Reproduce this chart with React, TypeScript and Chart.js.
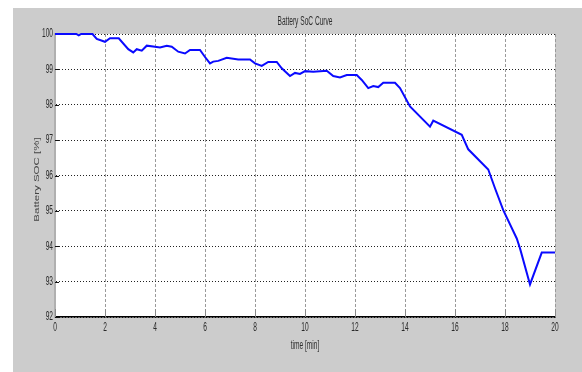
import { useEffect, useRef } from "react";
import { Chart, registerables } from "chart.js";

Chart.register(...registerables);

// Battery state of charge over a 20 minute run
const timeMin = [
  0, 0.85, 0.95, 1.05, 1.5, 1.67, 2.0, 2.2, 2.55, 2.93, 3.13, 3.27, 3.47, 3.67,
  4.0, 4.2, 4.47, 4.67, 4.93, 5.2, 5.4, 5.8, 6.0, 6.2, 6.33, 6.53, 6.87, 7.33,
  7.8, 8.0, 8.27, 8.53, 8.87, 9.07, 9.4, 9.6, 9.8, 10.0, 10.33, 10.87, 11.13,
  11.4, 11.67, 12.07, 12.27, 12.53, 12.73, 12.93, 13.13, 13.6, 13.8, 14.2, 15.0,
  15.13, 16.27, 16.53, 17.33, 17.6, 17.93, 18.47, 18.6, 19.0, 19.47, 20,
];
const socPct = [
  100, 100, 99.96, 100, 100, 99.86, 99.78, 99.88, 99.88, 99.57, 99.48, 99.57,
  99.53, 99.67, 99.64, 99.62, 99.67, 99.64, 99.5, 99.45, 99.55, 99.55, 99.35,
  99.17, 99.22, 99.24, 99.33, 99.28, 99.28, 99.17, 99.1, 99.21, 99.21, 99.03,
  98.81, 98.9, 98.87, 98.95, 98.93, 98.96, 98.81, 98.77, 98.84, 98.84, 98.7,
  98.47, 98.53, 98.5, 98.62, 98.62, 98.47, 97.95, 97.38, 97.55, 97.15, 96.74,
  96.17, 95.64, 95.02, 94.22, 93.94, 92.92, 93.82, 93.82,
];
const xTickValues = [0, 2, 4, 6, 8, 10, 12, 14, 16, 18, 20];
const yTickValues = [92, 93, 94, 95, 96, 97, 98, 99, 100];

const chartTitle = "Battery SoC Curve";
const xTitle = "time [min]";
const yTitle = "Battery SOC [%]";

const W = 582;
const H = 372;
const FONT = "'Liberation Sans', Arial, sans-serif";
// horizontal compression applied to all figure text
const SQUISH = 0.55;

function squishedText(ctx: any, text: string, x: number, y: number, align: string) {
  ctx.save();
  ctx.translate(x, y);
  ctx.scale(SQUISH, 1);
  ctx.textAlign = align;
  ctx.fillText(text, 0, 0);
  ctx.restore();
}

const figurePlugin = {
  id: "figureFrame",
  beforeDraw(chart: any) {
    const { ctx, chartArea } = chart;
    ctx.save();
    ctx.fillStyle = "#ffffff";
    ctx.fillRect(0, 0, W, H);
    ctx.fillStyle = "#cccccc";
    ctx.fillRect(13, 8, W - 13, H - 8);
    ctx.fillStyle = "#ffffff";
    ctx.fillRect(chartArea.left, chartArea.top, chartArea.right - chartArea.left, chartArea.bottom - chartArea.top);
    ctx.restore();
  },
  beforeDatasetsDraw(chart: any) {
    const { ctx, chartArea, scales } = chart;
    ctx.save();
    // inward tick marks
    ctx.strokeStyle = "#8a8a8a";
    ctx.lineWidth = 1;
    for (const v of xTickValues) {
      const x = Math.round(scales.x.getPixelForValue(v)) + 0.5;
      ctx.beginPath();
      ctx.moveTo(x, chartArea.bottom);
      ctx.lineTo(x, chartArea.bottom - 8);
      ctx.stroke();
    }
    ctx.strokeStyle = "#111";
    for (const v of yTickValues) {
      const y = Math.round(scales.y.getPixelForValue(v)) + 0.5;
      ctx.beginPath();
      ctx.moveTo(chartArea.left, y);
      ctx.lineTo(chartArea.left + 4, y);
      ctx.stroke();
    }
    ctx.restore();
  },
  afterDraw(chart: any) {
    const { ctx, chartArea, scales } = chart;
    const cx = (chartArea.left + chartArea.right) / 2;
    const cy = (chartArea.top + chartArea.bottom) / 2;
    ctx.save();
    ctx.fillStyle = "#2a2a2a";
    ctx.textBaseline = "middle";
    ctx.font = `12px ${FONT}`;
    // tick labels
    for (const v of xTickValues) {
      squishedText(ctx, String(v), scales.x.getPixelForValue(v), chartArea.bottom + 11, "center");
    }
    for (const v of yTickValues) {
      squishedText(ctx, String(v), chartArea.left - 2, scales.y.getPixelForValue(v), "right");
    }
    // titles
    ctx.fillStyle = "#2f2f2f";
    squishedText(ctx, chartTitle, cx, 22, "center");
    squishedText(ctx, xTitle, cx, 346, "center");
    ctx.fillStyle = "#444";
    ctx.font = `11.5px ${FONT}`;
    ctx.translate(37, cy + 4);
    ctx.scale(SQUISH, 1);
    ctx.rotate(-Math.PI / 2);
    ctx.textAlign = "center";
    ctx.fillText(yTitle, 0, 0);
    ctx.restore();
  },
};

export default function App() {
  const canvasRef = useRef<HTMLCanvasElement | null>(null);

  useEffect(() => {
    const canvas = canvasRef.current;
    if (!canvas) return;
    const chart = new Chart(canvas, {
      type: "line",
      data: {
        datasets: [
          {
            data: timeMin.map((t, i) => ({ x: t, y: socPct[i] })),
            borderColor: "#0a0aff",
            borderWidth: 2,
            pointRadius: 0,
            tension: 0,
            clip: false as any,
          },
        ],
      },
      options: {
        animation: false,
        responsive: false,
        devicePixelRatio: 1,
        layout: { padding: { left: 0, top: 34, right: 27, bottom: 0 } },
        plugins: {
          legend: { display: false },
          title: { display: false },
          tooltip: { enabled: false },
        },
        scales: {
          x: {
            type: "linear",
            min: 0,
            max: 20,
            afterBuildTicks: (axis: any) => {
              axis.ticks = xTickValues.map((v) => ({ value: v }));
            },
            afterFit: (axis: any) => {
              axis.height = 55;
            },
            ticks: { display: false },
            grid: { color: "#9a9a9a", lineWidth: 1, drawTicks: false },
            border: { display: true, color: "#000", width: 1.5, dash: [3, 2] },
          },
          y: {
            type: "linear",
            min: 92,
            max: 100,
            afterBuildTicks: (axis: any) => {
              axis.ticks = yTickValues.map((v) => ({ value: v }));
            },
            afterFit: (axis: any) => {
              axis.width = 55;
            },
            ticks: { display: false },
            grid: { color: "#222", lineWidth: 1, drawTicks: false },
            border: { display: true, color: "#b0b0b0", width: 2, dash: [1, 2] },
          },
        },
      },
      plugins: [figurePlugin],
    });
    return () => chart.destroy();
  }, []);

  return (
    <div style={{ position: "fixed", left: 0, top: 0, width: W, height: H }}>
      <canvas ref={canvasRef} width={W} height={H} style={{ display: "block" }} />
    </div>
  );
}
